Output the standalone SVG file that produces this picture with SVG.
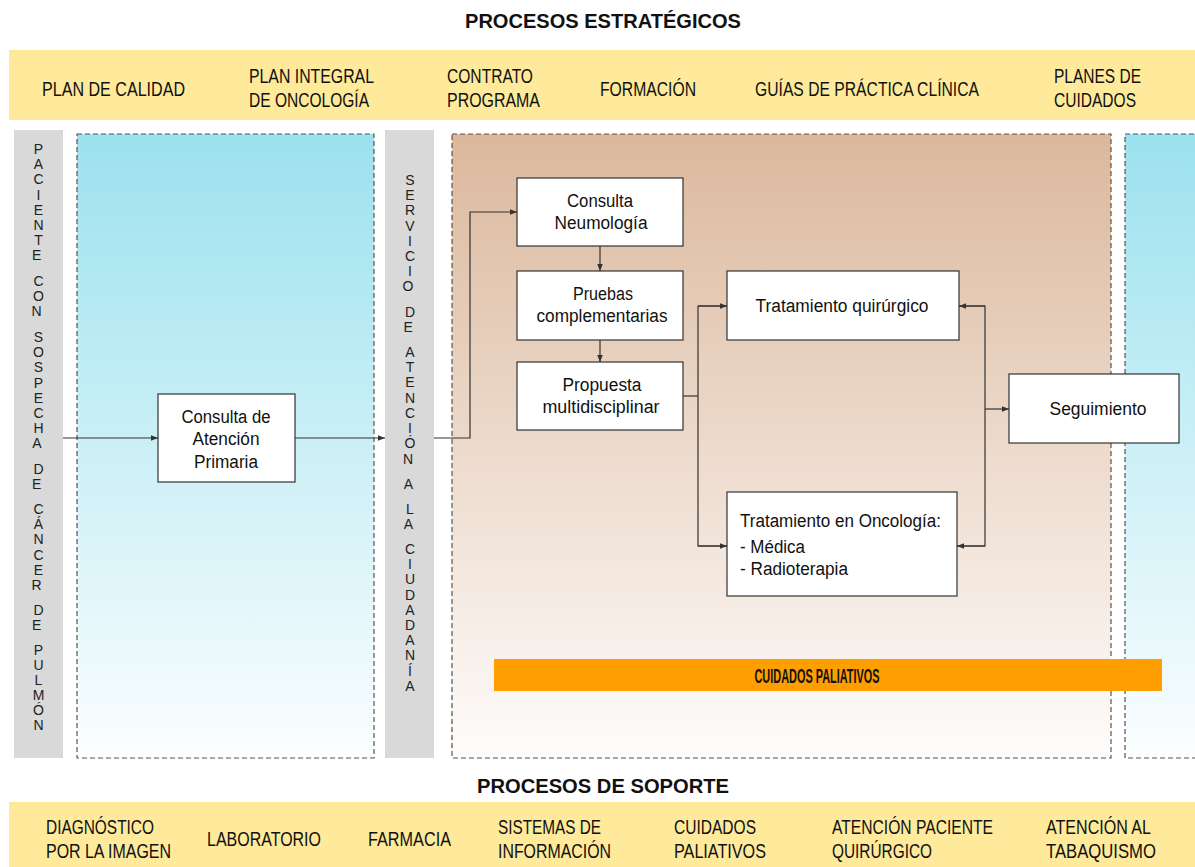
<svg xmlns="http://www.w3.org/2000/svg" width="1195" height="867" viewBox="0 0 1195 867">
<style>
.t{font-family:"Liberation Sans",Arial,sans-serif;fill:#111}
.band{font-size:20.5px}
.title{font-size:21px;font-weight:bold}
.node{font-size:18px;text-anchor:middle}
.nl{font-size:18px}
.box{fill:#fff;stroke:#333;stroke-width:1.2}
.vert{font-size:14px;text-anchor:middle;dominant-baseline:central;fill:#222}
.dash{stroke:#555;stroke-width:1.2;stroke-dasharray:5 3}
.conn{fill:none;stroke:#333;stroke-width:1.2}
</style>
<defs>
<linearGradient id="blue" x1="0" y1="0" x2="0" y2="1">
<stop offset="0" stop-color="#9be1ee"/>
<stop offset="1" stop-color="#fbfeff"/>
</linearGradient>
<linearGradient id="brown" x1="0" y1="0" x2="0" y2="1">
<stop offset="0" stop-color="#dbb89c"/>
<stop offset="1" stop-color="#fefcfb"/>
</linearGradient>
<marker id="arr" viewBox="0 0 10 10" refX="10" refY="5" markerWidth="7" markerHeight="7" markerUnits="userSpaceOnUse" orient="auto">
<path d="M0,1 L10,5 L0,9 z" fill="#333"/>
</marker>
</defs>
<rect width="1195" height="867" fill="#fff"/>

<g id="estrategicos">
<text class="t title" x="603" y="28" text-anchor="middle" textLength="276" lengthAdjust="spacingAndGlyphs">PROCESOS ESTRATÉGICOS</text>
<rect x="9" y="50" width="1186" height="70" fill="#feea9a"/>
<text class="t band" x="42" y="96" textLength="143" lengthAdjust="spacingAndGlyphs">PLAN DE CALIDAD</text>
<text class="t band" x="249" y="83" textLength="125" lengthAdjust="spacingAndGlyphs">PLAN INTEGRAL</text>
<text class="t band" x="249" y="107" textLength="120" lengthAdjust="spacingAndGlyphs">DE ONCOLOGÍA</text>
<text class="t band" x="447" y="83" textLength="86" lengthAdjust="spacingAndGlyphs">CONTRATO</text>
<text class="t band" x="447" y="107" textLength="93" lengthAdjust="spacingAndGlyphs">PROGRAMA</text>
<text class="t band" x="600" y="96" textLength="96" lengthAdjust="spacingAndGlyphs">FORMACIÓN</text>
<text class="t band" x="755" y="96" textLength="224" lengthAdjust="spacingAndGlyphs">GUÍAS DE PRÁCTICA CLÍNICA</text>
<text class="t band" x="1054" y="83" textLength="87" lengthAdjust="spacingAndGlyphs">PLANES DE</text>
<text class="t band" x="1054" y="107" textLength="82" lengthAdjust="spacingAndGlyphs">CUIDADOS</text>
</g>

<g id="panels">
<rect x="77" y="134" width="297" height="624" fill="url(#blue)" class="dash"/>
<rect x="452" y="134" width="659" height="624" fill="url(#brown)" class="dash"/>
<rect x="1125" y="134" width="80" height="624" fill="url(#blue)" class="dash"/>
</g>

<g id="paciente">
<rect x="14" y="130" width="49" height="628" fill="#d9d9d9"/>
<text class="t vert">
<tspan x="38.5" y="149">P</tspan><tspan x="38.5" y="164.2">A</tspan><tspan x="38.5" y="179.4">C</tspan><tspan x="38.5" y="194.6">I</tspan><tspan x="38.5" y="209.8">E</tspan><tspan x="38.5" y="225">N</tspan><tspan x="38.5" y="240.2">T</tspan><tspan x="38.5" y="255.4">E</tspan>
<tspan x="38.5" y="281">C</tspan><tspan x="38.5" y="296.2">O</tspan><tspan x="38.5" y="311.4">N</tspan>
<tspan x="38.5" y="337">S</tspan><tspan x="38.5" y="352.2">O</tspan><tspan x="38.5" y="367.4">S</tspan><tspan x="38.5" y="382.6">P</tspan><tspan x="38.5" y="397.8">E</tspan><tspan x="38.5" y="413">C</tspan><tspan x="38.5" y="428.2">H</tspan><tspan x="38.5" y="443.4">A</tspan>
<tspan x="38.5" y="469">D</tspan><tspan x="38.5" y="484.2">E</tspan>
<tspan x="38.5" y="509">C</tspan><tspan x="38.5" y="524.2">Á</tspan><tspan x="38.5" y="539.4">N</tspan><tspan x="38.5" y="554.6">C</tspan><tspan x="38.5" y="569.8">E</tspan><tspan x="38.5" y="585">R</tspan>
<tspan x="38.5" y="610">D</tspan><tspan x="38.5" y="625.2">E</tspan>
<tspan x="38.5" y="649.5">P</tspan><tspan x="38.5" y="664.5">U</tspan><tspan x="38.5" y="679.5">L</tspan><tspan x="38.5" y="694.5">M</tspan><tspan x="38.5" y="709.7">Ó</tspan><tspan x="38.5" y="725">N</tspan>
</text>
</g>

<g id="servicio">
<rect x="385" y="130" width="49" height="628" fill="#d9d9d9"/>
<text class="t vert">
<tspan x="410" y="180">S</tspan><tspan x="410" y="195.2">E</tspan><tspan x="410" y="210.4">R</tspan><tspan x="410" y="225.6">V</tspan><tspan x="410" y="240.8">I</tspan><tspan x="410" y="256">C</tspan><tspan x="410" y="271.2">I</tspan><tspan x="410" y="286.4">O</tspan>
<tspan x="410" y="312">D</tspan><tspan x="410" y="327">E</tspan>
<tspan x="410" y="352">A</tspan><tspan x="410" y="367.2">T</tspan><tspan x="410" y="382.4">E</tspan><tspan x="410" y="397.6">N</tspan><tspan x="410" y="412.8">C</tspan><tspan x="410" y="428">I</tspan><tspan x="410" y="443.2">Ó</tspan><tspan x="410" y="459">N</tspan>
<tspan x="410" y="483.5">A</tspan>
<tspan x="410" y="509">L</tspan><tspan x="410" y="524">A</tspan>
<tspan x="410" y="549">C</tspan><tspan x="410" y="564.2">I</tspan><tspan x="410" y="579.4">U</tspan><tspan x="410" y="594.6">D</tspan><tspan x="410" y="609.8">A</tspan><tspan x="410" y="625">D</tspan><tspan x="410" y="640.2">A</tspan><tspan x="410" y="655.4">N</tspan><tspan x="410" y="670.6">Í</tspan><tspan x="410" y="686">A</tspan>
</text>
</g>

<g id="atencion-primaria">
<rect class="box" x="158" y="394" width="137" height="88"/>
<text class="t node" x="226" y="423" textLength="89" lengthAdjust="spacingAndGlyphs">Consulta de</text>
<text class="t node" x="226" y="445" textLength="67" lengthAdjust="spacingAndGlyphs">Atención</text>
<text class="t node" x="226" y="468" textLength="64" lengthAdjust="spacingAndGlyphs">Primaria</text>
</g>

<g id="neumologia">
<rect class="box" x="517" y="178" width="166" height="68"/>
<text class="t node" x="600" y="207" textLength="66" lengthAdjust="spacingAndGlyphs">Consulta</text>
<text class="t node" x="601" y="229" textLength="93" lengthAdjust="spacingAndGlyphs">Neumología</text>
</g>

<g id="pruebas">
<rect class="box" x="517" y="271" width="166" height="69"/>
<text class="t node" x="603" y="300" textLength="60" lengthAdjust="spacingAndGlyphs">Pruebas</text>
<text class="t node" x="602" y="322" textLength="131" lengthAdjust="spacingAndGlyphs">complementarias</text>
</g>

<g id="propuesta">
<rect class="box" x="517" y="362" width="166" height="68"/>
<text class="t node" x="602" y="391" textLength="79" lengthAdjust="spacingAndGlyphs">Propuesta</text>
<text class="t node" x="601" y="413" textLength="117" lengthAdjust="spacingAndGlyphs">multidisciplinar</text>
</g>

<g id="quirurgico">
<rect class="box" x="727" y="271" width="232" height="69"/>
<text class="t node" x="842" y="312" textLength="173" lengthAdjust="spacingAndGlyphs">Tratamiento quirúrgico</text>
</g>

<g id="oncologia">
<rect class="box" x="727" y="492" width="230" height="104"/>
<text class="t nl" x="740" y="527" textLength="201" lengthAdjust="spacingAndGlyphs">Tratamiento en Oncología:</text>
<text class="t nl" x="740" y="553" textLength="65" lengthAdjust="spacingAndGlyphs">- Médica</text>
<text class="t nl" x="740" y="575" textLength="108" lengthAdjust="spacingAndGlyphs">- Radioterapia</text>
</g>

<g id="seguimiento">
<rect class="box" x="1009" y="374" width="170" height="69"/>
<text class="t node" x="1098" y="415" textLength="97" lengthAdjust="spacingAndGlyphs">Seguimiento</text>
</g>

<g id="paliativos-bar">
<rect x="494" y="659" width="668" height="32" fill="#ff9e00"/>
<text class="t" x="817" y="683" font-size="20" font-weight="bold" text-anchor="middle" textLength="125" lengthAdjust="spacingAndGlyphs">CUIDADOS PALIATIVOS</text>
</g>

<g id="connectors">
<line class="conn" x1="63" y1="438" x2="158" y2="438" marker-end="url(#arr)"/>
<line class="conn" x1="295" y1="438" x2="385" y2="438" marker-end="url(#arr)"/>
<polyline class="conn" points="434,438 470,438 470,212 517,212" marker-end="url(#arr)"/>
<line class="conn" x1="600" y1="246" x2="600" y2="271" marker-end="url(#arr)"/>
<line class="conn" x1="600" y1="340" x2="600" y2="362" marker-end="url(#arr)"/>
<line class="conn" x1="683" y1="396" x2="698" y2="396"/>
<polyline class="conn" points="727,306 698,306 698,546 727,546"/>
<line class="conn" x1="698" y1="306" x2="727" y2="306" marker-end="url(#arr)"/>
<line class="conn" x1="698" y1="546" x2="727" y2="546" marker-end="url(#arr)"/>
<polyline class="conn" points="959,306 985,306 985,546 957,546"/>
<line class="conn" x1="985" y1="306" x2="959" y2="306" marker-end="url(#arr)"/>
<line class="conn" x1="985" y1="546" x2="957" y2="546" marker-end="url(#arr)"/>
<line class="conn" x1="985" y1="409" x2="1009" y2="409" marker-end="url(#arr)"/>
</g>

<g id="soporte">
<text class="t title" x="603" y="793" text-anchor="middle" textLength="252" lengthAdjust="spacingAndGlyphs">PROCESOS DE SOPORTE</text>
<rect x="9" y="802" width="1186" height="65" fill="#feea9a"/>
<text class="t band" x="46" y="834" textLength="108" lengthAdjust="spacingAndGlyphs">DIAGNÓSTICO</text>
<text class="t band" x="46" y="858" textLength="125" lengthAdjust="spacingAndGlyphs">POR LA IMAGEN</text>
<text class="t band" x="207" y="846" textLength="114" lengthAdjust="spacingAndGlyphs">LABORATORIO</text>
<text class="t band" x="368" y="846" textLength="83" lengthAdjust="spacingAndGlyphs">FARMACIA</text>
<text class="t band" x="498" y="834" textLength="103" lengthAdjust="spacingAndGlyphs">SISTEMAS DE</text>
<text class="t band" x="498" y="858" textLength="113" lengthAdjust="spacingAndGlyphs">INFORMACIÓN</text>
<text class="t band" x="674" y="834" textLength="82" lengthAdjust="spacingAndGlyphs">CUIDADOS</text>
<text class="t band" x="674" y="858" textLength="92" lengthAdjust="spacingAndGlyphs">PALIATIVOS</text>
<text class="t band" x="832" y="834" textLength="161" lengthAdjust="spacingAndGlyphs">ATENCIÓN PACIENTE</text>
<text class="t band" x="832" y="858" textLength="100" lengthAdjust="spacingAndGlyphs">QUIRÚRGICO</text>
<text class="t band" x="1046" y="834" textLength="105" lengthAdjust="spacingAndGlyphs">ATENCIÓN AL</text>
<text class="t band" x="1046" y="858" textLength="110" lengthAdjust="spacingAndGlyphs">TABAQUISMO</text>
</g>
</svg>
